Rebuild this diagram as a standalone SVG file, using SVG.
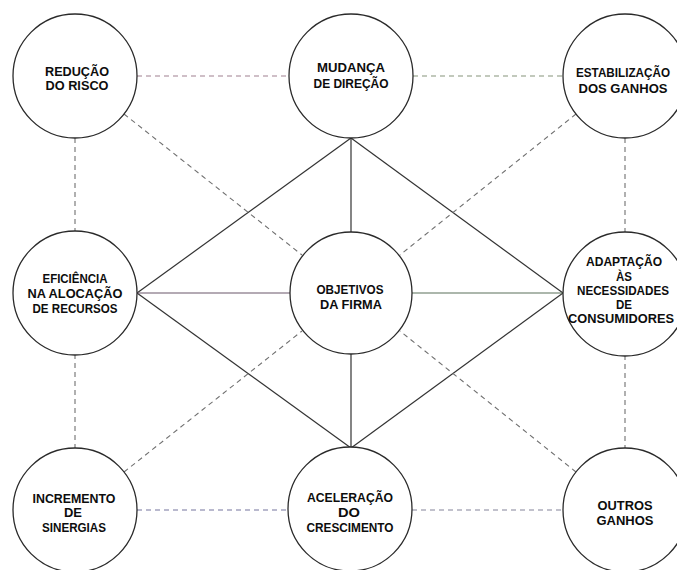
<svg xmlns="http://www.w3.org/2000/svg" width="677" height="570" viewBox="0 0 677 570">
  <style>
    .node circle { fill: #ffffff; stroke: #2a2a2a; stroke-width: 1.3; }
    .node text { font-family: "Liberation Sans", Arial, sans-serif; font-weight: bold; font-size: 13.5px; fill: #0d0d0d; text-anchor: middle; }
    .solid { stroke: #333333; stroke-width: 1.2; fill: none; }
    .dash { stroke: #707070; stroke-width: 1.1; stroke-dasharray: 5 4; fill: none; }
  </style>
  <rect width="677" height="570" fill="#ffffff"/>

  <g id="connectors">
    <!-- solid diamond around the central goal -->
    <line class="solid" x1="351" y1="138" x2="137" y2="293"/>
    <line class="solid" x1="351" y1="138" x2="563" y2="293"/>
    <line class="solid" x1="351" y1="138" x2="351" y2="232"/>
    <line class="solid" x1="351" y1="448" x2="137" y2="293"/>
    <line class="solid" x1="351" y1="448" x2="563" y2="293"/>
    <line class="solid" x1="351" y1="448" x2="351" y2="354"/>
    <line class="solid" x1="137" y1="293" x2="290" y2="293" style="stroke:#6a566a"/>
    <line class="solid" x1="412" y1="293" x2="563" y2="293" style="stroke:#5a705a"/>

    <!-- dashed outer ring -->
    <line class="dash" x1="137" y1="76" x2="289" y2="76" style="stroke:#a08090"/>
    <line class="dash" x1="413" y1="76" x2="564" y2="76" style="stroke:#86937a"/>
    <line class="dash" x1="137" y1="510" x2="288" y2="510" style="stroke:#74749e"/>
    <line class="dash" x1="412" y1="510" x2="564" y2="510" style="stroke:#84849a"/>
    <line class="dash" x1="75" y1="138" x2="75" y2="232"/>
    <line class="dash" x1="75" y1="354" x2="75" y2="448"/>
    <line class="dash" x1="625" y1="138" x2="625" y2="232"/>
    <line class="dash" x1="625" y1="355" x2="625" y2="448"/>

    <!-- dashed diagonals to the centre -->
    <line class="dash" x1="124" y1="114" x2="302" y2="255"/>
    <line class="dash" x1="576" y1="114" x2="400" y2="255"/>
    <line class="dash" x1="124" y1="472" x2="302" y2="331"/>
    <line class="dash" x1="576" y1="472" x2="400" y2="331"/>
  </g>

  <g id="reducao-risco" class="node">
    <circle cx="75" cy="76" r="62"/>
    <text x="77" y="76" textLength="64" lengthAdjust="spacingAndGlyphs">REDUÇÃO</text>
    <text x="77" y="90" textLength="63" lengthAdjust="spacingAndGlyphs">DO RISCO</text>
  </g>

  <g id="mudanca-direcao" class="node">
    <circle cx="351" cy="76" r="62"/>
    <text x="351" y="72" textLength="68" lengthAdjust="spacingAndGlyphs">MUDANÇA</text>
    <text x="351" y="88" textLength="75" lengthAdjust="spacingAndGlyphs">DE DIREÇÃO</text>
  </g>

  <g id="estabilizacao-ganhos" class="node">
    <circle cx="625" cy="76" r="62"/>
    <text x="623" y="77" textLength="94" lengthAdjust="spacingAndGlyphs">ESTABILIZAÇÃO</text>
    <text x="623" y="93" textLength="89" lengthAdjust="spacingAndGlyphs">DOS GANHOS</text>
  </g>

  <g id="eficiencia-alocacao" class="node">
    <circle cx="75" cy="293" r="62"/>
    <text x="75" y="283" textLength="65" lengthAdjust="spacingAndGlyphs">EFICIÊNCIA</text>
    <text x="75" y="298" textLength="95" lengthAdjust="spacingAndGlyphs">NA ALOCAÇÃO</text>
    <text x="75" y="313" textLength="85" lengthAdjust="spacingAndGlyphs">DE RECURSOS</text>
  </g>

  <g id="objetivos-firma" class="node">
    <circle cx="351" cy="293" r="61"/>
    <text x="350" y="294" textLength="67" lengthAdjust="spacingAndGlyphs">OBJETIVOS</text>
    <text x="351" y="309" textLength="62" lengthAdjust="spacingAndGlyphs">DA FIRMA</text>
  </g>

  <g id="adaptacao-consumidores" class="node">
    <circle cx="625" cy="294" r="62"/>
    <text x="624" y="266" textLength="76" lengthAdjust="spacingAndGlyphs">ADAPTAÇÃO</text>
    <text x="624" y="281" textLength="16" lengthAdjust="spacingAndGlyphs">ÀS</text>
    <text x="623" y="295" textLength="92" lengthAdjust="spacingAndGlyphs">NECESSIDADES</text>
    <text x="624" y="309" textLength="16" lengthAdjust="spacingAndGlyphs">DE</text>
    <text x="621" y="323" textLength="106" lengthAdjust="spacingAndGlyphs">CONSUMIDORES</text>
  </g>

  <g id="incremento-sinergias" class="node">
    <circle cx="75" cy="510" r="62"/>
    <text x="74" y="503" textLength="83" lengthAdjust="spacingAndGlyphs">INCREMENTO</text>
    <text x="73" y="517" textLength="18" lengthAdjust="spacingAndGlyphs">DE</text>
    <text x="74" y="532" textLength="64" lengthAdjust="spacingAndGlyphs">SINERGIAS</text>
  </g>

  <g id="aceleracao-crescimento" class="node">
    <circle cx="350" cy="509" r="62"/>
    <text x="350" y="502" textLength="86" lengthAdjust="spacingAndGlyphs">ACELERAÇÃO</text>
    <text x="349" y="517" textLength="22" lengthAdjust="spacingAndGlyphs">DO</text>
    <text x="350" y="532" textLength="87" lengthAdjust="spacingAndGlyphs">CRESCIMENTO</text>
  </g>

  <g id="outros-ganhos" class="node">
    <circle cx="625" cy="510" r="62"/>
    <text x="625" y="510" textLength="55" lengthAdjust="spacingAndGlyphs">OUTROS</text>
    <text x="625" y="525" textLength="57" lengthAdjust="spacingAndGlyphs">GANHOS</text>
  </g>
</svg>
